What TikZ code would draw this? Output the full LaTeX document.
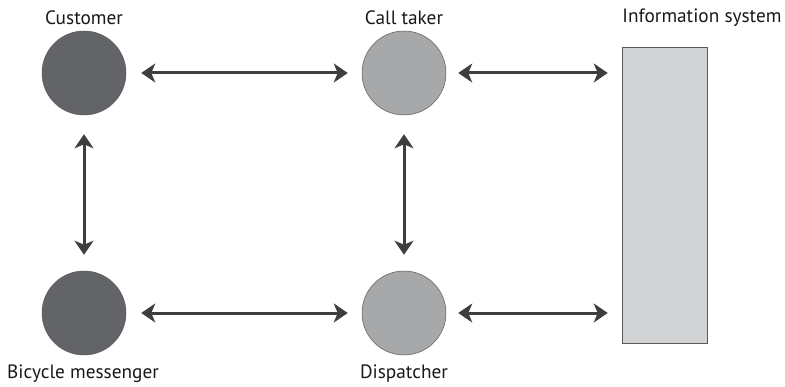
\documentclass[tikz,border=0pt]{standalone}
\usepackage{fontspec}
\setmainfont{PT Sans}
\usetikzlibrary{arrows.meta}
\definecolor{darkc}{HTML}{636468}
\definecolor{lightc}{HTML}{A7A8AA}
\definecolor{rectc}{HTML}{D1D2D4}
\definecolor{arrc}{HTML}{3E3E3E}
\definecolor{edgec}{HTML}{5A5A5A}
\tikzset{
  actor/.style={circle, minimum size=84pt, inner sep=0pt, draw=edgec, line width=0.5pt},
  dark/.style={actor, fill=darkc},
  light/.style={actor, fill=lightc},
  lbl/.style={font=\fontsize{19.3}{21}\selectfont, text=black!90, inner sep=0pt},
  link/.style={arrc, line width=3pt, {Stealth[length=14pt,width=19pt,inset=4pt]}-{Stealth[length=14pt,width=19pt,inset=4pt]}, shorten <=15pt, shorten >=14pt},
}
\begin{document}
\begin{tikzpicture}[x=1pt,y=1pt]
\useasboundingbox (0,0) rectangle (785,386);
\node[dark]  (cust) at (84,313) {};
\node[light] (call) at (404,313) {};
\node[dark]  (bike) at (84,73) {};
\node[light] (disp) at (404,73) {};
\node[draw=edgec, line width=0.5pt, fill=rectc, minimum width=85pt, minimum height=296pt, inner sep=0pt] (info) at (664.5,191) {};
\coordinate (infoT) at (info.west |- call);
\coordinate (infoB) at (info.west |- disp);
\node[lbl] (lcust) at (84,368) {Customer};
\node[lbl] (lcall) at (404,368) {Call taker};
\node[lbl] (linfo) at (702,368) {Information system};
\node[lbl] (lbike) at (83,12) {Bicycle messenger};
\node[lbl] (ldisp) at (404,12) {Dispatcher};
\draw[link] (cust) -- (call);
\draw[link, shorten >=14pt, shorten <=12pt] (call) -- (infoT);
\draw[link] (bike) -- (disp);
\draw[link, shorten >=14pt, shorten <=12pt] (disp) -- (infoB);
\draw[link, shorten <=19pt, shorten >=16pt] (cust) -- (bike);
\draw[link, shorten <=19pt, shorten >=16pt] (call) -- (disp);
\end{tikzpicture}
\end{document}
